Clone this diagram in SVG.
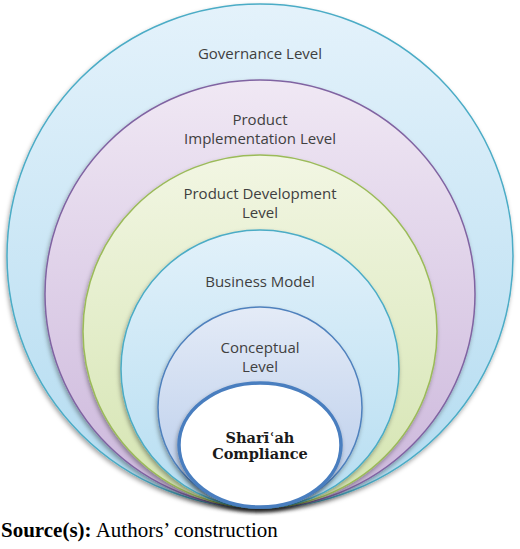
<svg xmlns="http://www.w3.org/2000/svg" width="520" height="549" viewBox="0 0 520 549">
<defs>
<linearGradient id="gBlue" x1="0" y1="0" x2="0" y2="1"><stop offset="0" stop-color="#e4f2fb"/><stop offset="1" stop-color="#b2dbf0"/></linearGradient>
<linearGradient id="gPurple" x1="0" y1="0" x2="0" y2="1"><stop offset="0" stop-color="#f0e8f4"/><stop offset="1" stop-color="#cbb6db"/></linearGradient>
<linearGradient id="gGreen" x1="0" y1="0" x2="0" y2="1"><stop offset="0" stop-color="#f2f6e3"/><stop offset="1" stop-color="#d4e4b0"/></linearGradient>
<linearGradient id="gTeal" x1="0" y1="0" x2="0" y2="1"><stop offset="0" stop-color="#e2f1fa"/><stop offset="1" stop-color="#b5ddf1"/></linearGradient>
<linearGradient id="gSteel" x1="0" y1="0" x2="0" y2="1"><stop offset="0" stop-color="#e4ebf7"/><stop offset="1" stop-color="#b7cbea"/></linearGradient>
<filter id="sh" x="-10%" y="-10%" width="120%" height="125%"><feDropShadow dx="-1" dy="2.5" stdDeviation="2" flood-color="#000" flood-opacity="0.35"/></filter>
</defs>
<style>
.lbl{font-family:"Open Sans","Liberation Sans",Arial,sans-serif;font-size:15px;fill:#404040;text-anchor:middle}
.core{font-family:"DejaVu Serif",serif;font-weight:bold;font-size:14.5px;fill:#1a1a1a;text-anchor:middle}
.ring{filter:url(#sh)}
</style>
<g id="governance" class="ring"><ellipse cx="260" cy="256" rx="253" ry="252" fill="url(#gBlue)" stroke="#4bacc6" stroke-width="1.5"/></g>
<g id="implementation" class="ring"><ellipse cx="260" cy="294" rx="215" ry="214" fill="url(#gPurple)" stroke="#8064a2" stroke-width="1.5"/></g>
<g id="development" class="ring"><ellipse cx="260" cy="331.5" rx="177" ry="176.5" fill="url(#gGreen)" stroke="#9bbb59" stroke-width="1.5"/></g>
<g id="business" class="ring"><ellipse cx="260" cy="369" rx="139" ry="139" fill="url(#gTeal)" stroke="#4bacc6" stroke-width="1.5"/></g>
<g id="conceptual" class="ring"><ellipse cx="260" cy="407.5" rx="102" ry="100.5" fill="url(#gSteel)" stroke="#4f81bd" stroke-width="1.5"/></g>
<g id="sharia" class="ring"><ellipse cx="260" cy="445" rx="81" ry="62" fill="#ffffff" stroke="#4a7ebf" stroke-width="3.5"/></g>
<g id="labels">
<text class="lbl" x="260" y="59">Governance Level</text>
<text class="lbl" x="260" y="125">Product</text>
<text class="lbl" x="260" y="144">Implementation Level</text>
<text class="lbl" x="260" y="199">Product Development</text>
<text class="lbl" x="260" y="218">Level</text>
<text class="lbl" x="260" y="287">Business Model</text>
<text class="lbl" x="260" y="353">Conceptual</text>
<text class="lbl" x="260" y="372">Level</text>
<text class="core" x="260" y="443">Sharīʿah</text>
<text class="core" x="260" y="459">Compliance</text>
</g>
<g id="connectors"></g>
<text x="1" y="537" font-family="'Liberation Serif','Times New Roman',serif" font-size="21" fill="#000"><tspan font-weight="bold">Source(s):</tspan> Authors’ construction</text>
</svg>
